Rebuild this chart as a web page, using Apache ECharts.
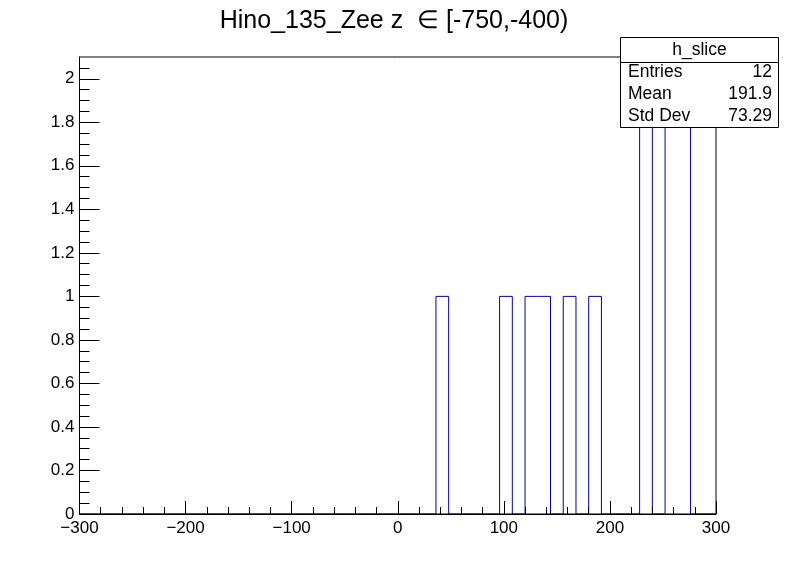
<!DOCTYPE html>
<html>
<head>
<meta charset="utf-8">
<script src="https://cdn.jsdelivr.net/npm/echarts@6/dist/echarts.min.js"></script>
<style>
html,body{margin:0;padding:0;background:#fff;}
#chart{width:796px;height:572px;}
</style>
</head>
<body>
<div id="chart"></div>
<script>
// Histogram: 50 bins of width 12 from -300 to 300
const binLow = -300;
const binWidth = 12;
const counts = [
  0,0,0,0,0,0,0,0,0,0,
  0,0,0,0,0,0,0,0,0,0,
  0,0,0,0,0,0,0,0,1,0,
  0,0,0,1,0,1,1,0,1,0,
  1,0,0,0,2,0,2,2,0,0
];
const xTicks = [-300,-200,-100,0,100,200,300];
const yMajorTicks = [0,0.2,0.4,0.6,0.8,1,1.2,1.4,1.6,1.8,2];
const yMinorTicks = [0.05,0.1,0.15,0.25,0.3,0.35,0.45,0.5,0.55,0.65,0.7,0.75,0.85,0.9,0.95,
  1.05,1.1,1.15,1.25,1.3,1.35,1.45,1.5,1.55,1.65,1.7,1.75,1.85,1.9,1.95,2.05];
const titleText = 'Hino_135_Zee z  \u2208 [-750,-400)';
const statsName = 'h_slice';
const statsLabels = ['Entries','Mean','Std Dev'];
const statsValues = ['12','191.9','73.29'];

// build step outline from bins
const outline = [[binLow, 0]];
for (let i = 0; i < counts.length; i++) {
  const x0 = binLow + i * binWidth, x1 = x0 + binWidth;
  outline.push([x0, counts[i]]);
  outline.push([x1, counts[i]]);
}
outline.push([binLow + counts.length * binWidth, 0]);

const chart = echarts.init(document.getElementById('chart'), null, {renderer: 'canvas'});
const font = 'Liberation Sans, Arial, Helvetica, sans-serif';
const minusFmt = v => String(v).replace('-', '\u2212');

const gridL = 79.5, gridT = 57, gridW = 636.5, gridH = 457;
const boxL = 620.5, boxT = 37.5, boxW = 158, boxH = 90;
const graphics = [
  {type:'rect', z:100, shape:{x:boxL, y:boxT, width:boxW, height:boxH},
   style:{fill:'#fff', stroke:'#000', lineWidth:1}},
  {type:'line', z:101, shape:{x1:boxL, y1:62.5, x2:boxL+boxW, y2:62.5},
   style:{stroke:'#000', lineWidth:1}},
  {type:'text', z:102, x:boxL+boxW/2, y:50, style:{text:statsName, font:'17.5px '+font, fill:'#000', align:'center', verticalAlign:'middle'}}
];
const rowY = [72.5, 94.5, 116.5];
statsLabels.forEach((l, i) => {
  graphics.push({type:'text', z:102, x:628, y:rowY[i], style:{text:l, font:'17.5px '+font, fill:'#000', align:'left', verticalAlign:'middle'}});
  graphics.push({type:'text', z:102, x:772, y:rowY[i], style:{text:statsValues[i], font:'17.5px '+font, fill:'#000', align:'right', verticalAlign:'middle'}});
});
graphics.push({type:'text', z:102, x:394, y:21, style:{text:titleText, font:'25px '+font, fill:'#000', align:'center', verticalAlign:'middle'}});

chart.setOption({
  animation: false,
  backgroundColor: '#fff',
  grid: {left: gridL, top: gridT, width: gridW, height: gridH, show: true, borderColor: '#000', borderWidth: 1, backgroundColor: 'transparent'},
  xAxis: {
    type: 'value', min: -300, max: 300, interval: 100, z: 10,
    axisLine: {show: true, onZero: false, lineStyle: {color: '#000', width: 1}},
    axisTick: {show: true, inside: true, length: 13, lineStyle: {color: '#000'}},
    minorTick: {show: true, splitNumber: 5, length: 7, lineStyle: {color: '#000'}},
    splitLine: {show: false},
    axisLabel: {color: '#000', fontFamily: font, fontSize: 17, margin: 6, formatter: minusFmt, customValues: xTicks}
  },
  yAxis: [{
    type: 'value', min: 0, max: 2.1, z: 10, position: 'left',
    axisLine: {show: true, onZero: false, lineStyle: {color: '#000', width: 1}},
    axisTick: {show: true, inside: true, length: 20, lineStyle: {color: '#000'}, customValues: yMajorTicks},
    splitLine: {show: false},
    axisLabel: {color: '#000', fontFamily: font, fontSize: 17, margin: 5, customValues: yMajorTicks}
  }, {
    type: 'value', min: 0, max: 2.1, z: 10, position: 'left',
    axisLine: {show: false, onZero: false},
    axisTick: {show: true, inside: true, length: 10, lineStyle: {color: '#000'}, customValues: yMinorTicks},
    splitLine: {show: false},
    axisLabel: {show: false}
  }],
  series: [{
    type: 'line', data: outline, yAxisIndex: 0, symbol: 'none', z: 2,
    lineStyle: {color: '#0000aa', width: 1}
  }],
  graphic: graphics
});
</script>
</body>
</html>
